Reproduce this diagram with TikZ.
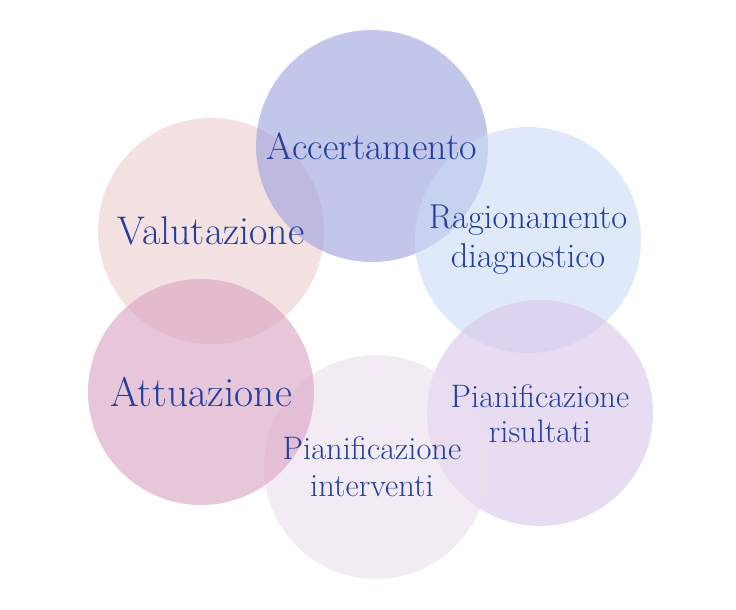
\documentclass[tikz,border=0pt]{standalone}
\usepackage{tikz}

\definecolor{textblue}{RGB}{34,62,158}
\definecolor{accfill}{RGB}{155,160,223}
\definecolor{ragfill}{RGB}{202,219,245}
\definecolor{risfill}{RGB}{217,197,235}
\definecolor{intfill}{RGB}{235,222,237}
\definecolor{attfill}{RGB}{218,160,192}
\definecolor{valfill}{RGB}{238,205,205}

\tikzset{
  bubble/.style={circle, draw=none, fill opacity=0.6, minimum size=226pt, inner sep=0pt},
  bubbletext/.style={text=textblue, align=center, inner sep=0pt}
}

\begin{document}
\begin{tikzpicture}[x=1pt,y=-1pt]
% Canvas
\fill[white] (0,0) rectangle (736,610);
\useasboundingbox (0,0) rectangle (736,610);

% Circles
\node[bubble, fill=valfill] (val) at (211,231) {};
\node[bubble, fill=accfill, minimum size=232pt] (acc) at (372,146) {};
\node[bubble, fill=ragfill] (rag) at (528,240) {};
\node[bubble, fill=risfill] (ris) at (540,413) {};
\node[bubble, fill=intfill, minimum size=224pt] (int) at (376,467) {};
\node[bubble, fill=attfill] (att) at (201,392) {};

% Labels
\node[bubbletext, font=\fontsize{38}{44}\selectfont] (acc text) at (acc.center) {Accertamento};
\node[bubbletext, font=\fontsize{34.5}{39}\selectfont] (rag text) at (rag.center) {Ragionamento\\diagnostico};
\node[bubbletext, font=\fontsize{32.5}{35}\selectfont] (ris text) at ([yshift=-1pt]ris.center) {Pianificazione\\risultati};
\node[bubbletext, font=\fontsize{32.5}{37}\selectfont] (int text) at ([xshift=-4pt]int.center) {Pianificazione\\interventi};
\node[bubbletext, font=\fontsize{41.5}{48}\selectfont] (att text) at (att.center) {Attuazione};
\node[bubbletext, font=\fontsize{40}{46}\selectfont] (val text) at (val.center) {Valutazione};
\end{tikzpicture}
\end{document}
